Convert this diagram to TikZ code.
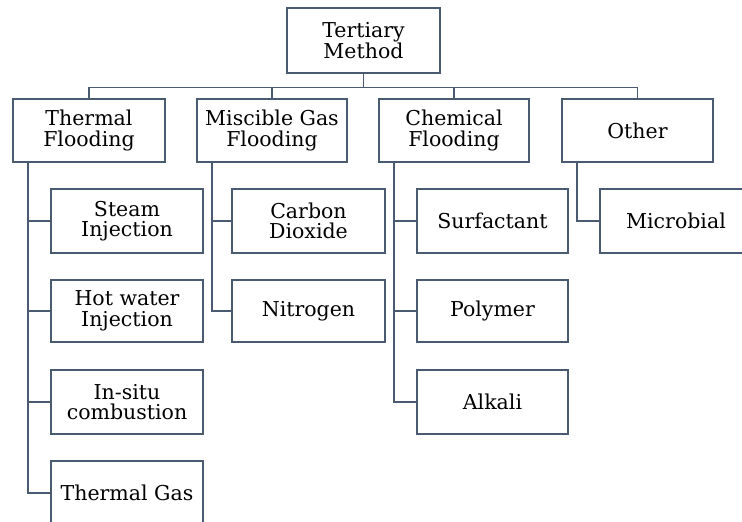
\documentclass[tikz,border=0pt]{standalone}
\usepackage{fontspec}
\setmainfont{DejaVu Serif}
\usetikzlibrary{calc}
\definecolor{linec}{HTML}{4A5A70}
\begin{document}
\begin{tikzpicture}[x=1pt,y=-1pt,
  box/.style={draw=linec, line width=1.8pt, fill=white, align=center, inner sep=0pt,
    font=\fontsize{20.5}{20.5}\selectfont},
  conn/.style={draw=linec, line width=1.8pt}]
\fill[white] (0,0) rectangle (742,522);
\useasboundingbox (0,0) rectangle (742,522);
% root
\node[box, minimum width=153pt, minimum height=65pt] (root) at (363.5,40.5) {Tertiary\\Method};
% level 1
\node[box, minimum width=152pt, minimum height=63pt] (th) at (89,130.5) {Thermal\\Flooding};
\node[box, minimum width=150pt, minimum height=63pt] (mg) at (272,130.5) {Miscible Gas\\Flooding};
\node[box, minimum width=150pt, minimum height=63pt] (ch) at (454,130.5) {Chemical\\Flooding};
\node[box, minimum width=151pt, minimum height=63pt] (ot) at (637.5,130.5) {Other};
% thermal children
\node[box, minimum width=152pt, minimum height=64pt] (si) at (127,221) {Steam\\Injection};
\node[box, minimum width=152pt, minimum height=62pt] (hw) at (127,311) {Hot water\\Injection};
\node[box, minimum width=152pt, minimum height=64pt] (is) at (127,402) {In-situ\\combustion};
\node[box, minimum width=152pt, minimum height=64pt] (tg) at (127,493) {Thermal Gas};
% miscible children
\node[box, minimum width=153pt, minimum height=64pt] (co) at (308.5,221) {Carbon\\Dioxide};
\node[box, minimum width=153pt, minimum height=62pt] (ni) at (308.5,311) {Nitrogen};
% chemical children
\node[box, minimum width=151pt, minimum height=64pt] (su) at (492.5,221) {Surfactant};
\node[box, minimum width=151pt, minimum height=62pt] (po) at (492.5,311) {Polymer};
\node[box, minimum width=151pt, minimum height=64pt] (al) at (492.5,402) {Alkali};
% other children
\node[box, minimum width=152pt, minimum height=64pt] (mi) at (676,221) {Microbial};
% root connectors
\draw[conn] (root.south) -- ++(0,13.5) -| (th.north);
\draw[conn] (root.south) -- ++(0,13.5) -| (mg.north);
\draw[conn] (root.south) -- ++(0,13.5) -| (ch.north);
\draw[conn] (root.south) -- ++(0,13.5) -| (ot.north);
% child connectors
\foreach \p/\c in {th/si, th/hw, th/is, th/tg, mg/co, mg/ni, ch/su, ch/po, ch/al, ot/mi}{
  \draw[conn] ([xshift=15.5pt]\p.south west) |- (\c.west);
}
\end{tikzpicture}
\end{document}
